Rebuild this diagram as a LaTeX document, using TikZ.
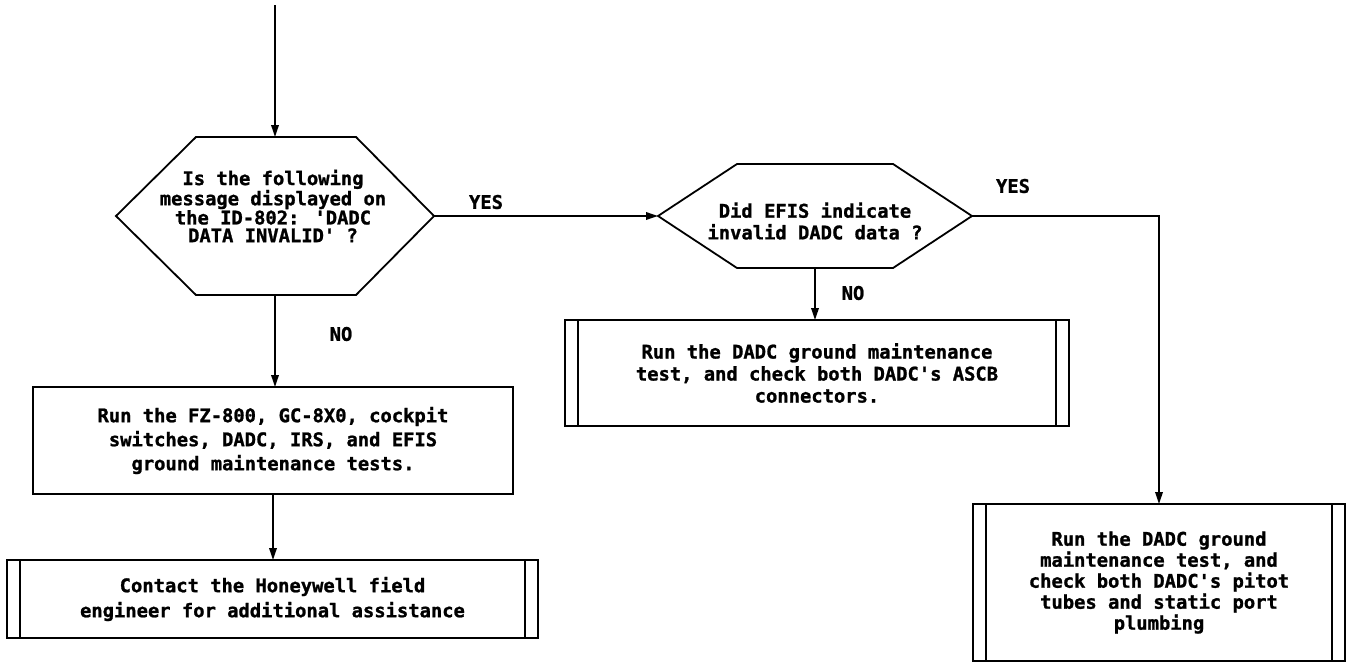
\documentclass[tikz,border=0pt]{standalone}
\usepackage{fontspec}
\newfontfamily\chartfont{DejaVu Sans Mono}[BoldFeatures={FakeBold=1.2}]
\usetikzlibrary{arrows.meta}

\tikzset{
  chart/.style={font=\chartfont\bfseries\fontsize{18.8}{#1}\selectfont},
  chart/.default=20,
  stroke/.style={line width=1.8pt, line cap=rect},
  flow/.style={stroke, -{Triangle[length=12pt,width=7.5pt]}},
  frame/.style={inner sep=0pt, outer sep=0pt},
  procbox/.style={frame, draw, stroke, align=center},
  % predefined process: rectangle with an inner bar at each side
  predef/.style={procbox, path picture={
      \draw[stroke] ([xshift=13pt]path picture bounding box.north west)
                 -- ([xshift=13pt]path picture bounding box.south west);
      \draw[stroke] ([xshift=-13pt]path picture bounding box.north east)
                 -- ([xshift=-13pt]path picture bounding box.south east);}},
  answer/.style={chart, inner sep=0pt}
}

\begin{document}
\begin{tikzpicture}[x=1pt, y=-1pt]
  \useasboundingbox (0,0) rectangle (1346,662);

  % decision hexagons (frames carry the anchors, outlines drawn below)
  \node[frame, minimum width=318pt, minimum height=158pt] (q1) at (275,216) {};
  \draw[stroke, line join=miter]
    (q1.west) -- ([xshift=80pt]q1.north west) -- ([xshift=-78pt]q1.north east)
    -- (q1.east) -- ([xshift=-78pt]q1.south east) -- ([xshift=80pt]q1.south west) -- cycle;
  \node[chart=17.8, align=center, inner sep=0pt] (q1text) at (273,206)
    {Is the following\\message displayed on\\the ID-802: 'DADC\\DATA INVALID' ?};

  \node[frame, minimum width=314pt, minimum height=104pt] (q2) at (815,216) {};
  \draw[stroke, line join=miter]
    (q2.west) -- ([xshift=79pt]q2.north west) -- ([xshift=-79pt]q2.north east)
    -- (q2.east) -- ([xshift=-79pt]q2.south east) -- ([xshift=79pt]q2.south west) -- cycle;
  \node[chart=21.7, align=center, inner sep=0pt] (q2text) at (815,221)
    {Did EFIS indicate\\invalid DADC data ?};

  % action boxes
  \node[procbox, chart=24, minimum width=480pt, minimum height=107pt] (tests) at (273,440.5)
    {Run the FZ-800, GC-8X0, cockpit\\switches, DADC, IRS, and EFIS\\ground maintenance tests.};

  \node[predef, chart=25, minimum width=531pt, minimum height=78pt] (contact) at (272.5,599)
    {Contact the Honeywell field\\engineer for additional assistance};

  \node[predef, chart=22, minimum width=504pt, minimum height=106pt] (ascb) at (817,373)
    {Run the DADC ground maintenance\\test, and check both DADC's ASCB\\connectors.};

  \node[predef, chart=21, minimum width=372pt, minimum height=157pt] (pitot) at (1159,582.5)
    {Run the DADC ground\\maintenance test, and\\check both DADC's pitot\\tubes and static port\\plumbing};

  % connectors
  \coordinate (entry) at (275,6);
  \draw[flow] (entry) -- (q1.north);
  \draw[flow] (q1.south) -- (q1.south |- tests.north);
  \draw[flow] (tests.south) -- (tests.south |- contact.north);
  \draw[flow] (q1.east) -- (q2.west);
  \draw[flow] (q2.south) -- (q2.south |- ascb.north);
  \draw[flow] (q2.east) -| (pitot.north);

  % branch labels
  \node[answer] (yes1) at (486,202) {YES};
  \node[answer] (no1)  at (341,334) {NO};
  \node[answer] (yes2) at (1013,186) {YES};
  \node[answer] (no2)  at (853,293) {NO};
\end{tikzpicture}
\end{document}
